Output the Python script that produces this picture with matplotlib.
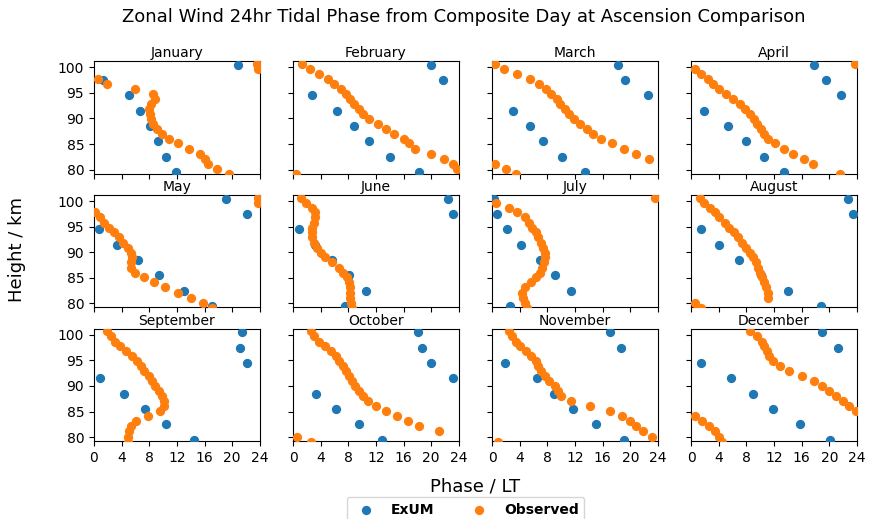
import matplotlib
matplotlib.use("Agg")
import matplotlib.pyplot as plt

months = ["January", "February", "March", "April", "May", "June", "July",
          "August", "September", "October", "November", "December"]
H_ex = [100.5, 97.5, 94.5, 91.5, 88.5, 85.5, 82.5, 79.5]
H_obs = [100.7, 99.7, 98.7, 97.8, 96.8, 95.8, 94.8, 93.9, 92.9, 91.9, 90.9, 89.9,
         89.0, 88.0, 87.0, 86.0, 85.1, 84.1, 83.1, 82.1, 81.1, 80.1, 79.1]
N = None
exum = {
    "January":   [20.8, 1.3, 5.0, 6.6, 8.1, 9.3, 10.4, 11.9],
    "February":  [19.9, 21.7, 2.7, 6.3, 8.8, 11.0, 14.0, 18.3],
    "March":     [18.2, 19.2, 22.6, 3.1, 5.5, 7.4, 10.1, 13.4],
    "April":     [17.8, 19.5, 21.7, 1.9, 5.3, 7.9, 10.6, 13.4],
    "May":       [19.1, 22.2, 0.7, 3.3, 6.3, 9.4, 13.0, 17.1],
    "June":      [22.4, 23.2, 0.8, 3.2, 5.7, 8.1, 10.6, 7.5],
    "July":      [0.3, 0.7, 2.2, 4.2, 6.9, 9.1, 11.4, 2.6],
    "August":    [22.7, 23.5, 1.4, 4.0, 7.0, 10.1, 14.0, 18.8],
    "September": [21.4, 21.2, 22.2, 0.9, 4.4, 7.4, 10.4, 14.5],
    "October":   [18.1, 18.6, 19.9, 23.2, 3.3, 6.2, 9.6, 12.9],
    "November":  [17.1, 18.7, 1.9, 6.5, 8.9, 11.7, 15.0, 19.1],
    "December":  [18.9, 21.2, 1.5, 5.8, 8.9, 11.8, 15.7, 20.1],
}
obs = {
    "January":   [23.6, 23.8, N, 0.6, 1.9, 6.0, 8.6, 8.8, 8.2, 7.9, 8.1, 8.3, 8.5, 9.1, 9.8,
                  10.8, 12.2, 13.8, 15.3, 16.1, 16.5, 17.8, 19.6],
    "February":  [1.3, 2.4, 3.7, 5.0, 6.0, 6.9, 7.6, 8.2, 8.8, 9.5, 10.1, 11.0, 12.3, 13.5,
                  14.6, 16.0, 16.8, 17.7, 19.9, 21.8, 23.1, 23.7, 0.4],
    "March":     [0.4, 1.8, 3.6, 5.5, 6.8, 7.8, 8.6, 9.4, 9.9, 10.6, 11.2, 11.9, 12.7, 13.7,
                  14.6, 15.8, 17.3, 19.1, 20.9, 22.7, 0.4, 2.0, 3.4],
    "April":     [23.7, 0.6, 1.5, 2.4, 3.2, 4.1, 5.0, 6.0, 7.1, 7.8, 8.5, 9.1, 9.6, 10.1,
                  10.6, 11.2, 12.2, 13.4, 14.8, 16.3, 17.7, N, 21.6],
    "May":       [23.8, 23.8, N, 0.1, 0.9, 1.5, 2.2, 2.9, 3.6, 4.2, 4.9, 5.3, 5.5, 5.3, 5.4,
                  5.9, 7.2, 8.7, 10.3, 12.1, 14.0, 15.8, 17.1],
    "June":      [1.1, 1.9, 2.7, 3.2, 3.2, 3.0, 2.7, 2.7, 2.7, 3.0, 3.5, 4.0, 4.7, 5.6, 6.6,
                  7.3, 7.8, 8.1, 8.2, 8.3, 8.3, 8.4, 8.5],
    "July":      [23.6, 0.6, 2.4, 3.6, 4.7, 5.3, 5.8, 6.3, 6.7, 7.1, 7.4, 7.6, 7.6, 7.5, 7.3,
                  6.9, 6.4, 5.7, 4.8, 4.4, 4.5, 4.7, 5.0],
    "August":    [1.3, 1.9, 2.7, 3.5, 4.1, 4.9, 5.5, 6.2, 6.8, 7.4, 8.0, 8.5, 8.9, 9.4, 9.7,
                  10.0, 10.2, 10.6, 10.9, 11.2, 11.2, 0.6, 1.4],
    "September": [1.9, 2.5, 3.0, 3.7, 4.6, 5.5, 6.2, 6.8, 7.3, 7.9, 8.4, 8.9, 9.4, 9.9, 10.1,
                  10.1, 9.5, 7.8, 6.1, 5.3, 5.0, 4.9, 4.9],
    "October":   [2.6, 3.1, 3.7, 4.6, 5.5, 6.2, 6.7, 7.3, 7.7, 8.1, 8.5, 9.0, 9.5, 10.1, 10.9,
                  12.0, 13.5, 15.1, 16.6, 18.2, 21.1, 0.6, 2.6],
    "November":  [2.4, 2.9, 3.5, 4.1, 4.9, 5.6, 6.3, 6.7, 7.1, 7.6, 8.3, 9.1, 9.6, 10.0, 11.4,
                  14.2, 17.1, 18.8, 20.0, 20.9, 21.9, 23.1, 0.9],
    "December":  [8.5, 9.6, 10.2, 10.6, 11.0, 11.3, 11.9, 12.8, 14.2, 16.1, 17.8, 19.0, 20.0,
                  21.0, 22.0, 22.9, 23.8, 0.6, 1.6, 2.6, 3.4, 4.0, 4.5],
}

fig, axes = plt.subplots(3, 4, figsize=(8.7, 5.19), dpi=100, sharex=True, sharey=True)
fig.subplots_adjust(left=0.108, right=0.985, top=0.882, bottom=0.150, wspace=0.2, hspace=0.19)
for ax, m in zip(axes.flat, months):
    ax.scatter(exum[m], H_ex, s=32, color="#1f77b4", label="ExUM", zorder=3)
    pts = [(x, h) for x, h in zip(obs[m], H_obs) if x is not None]
    ax.scatter([p[0] for p in pts], [p[1] for p in pts], s=32, color="#ff7f0e",
               label="Observed", zorder=3)
    ax.set_title(m, fontsize=10, pad=3)
    ax.set_xlim(0, 24)
    ax.set_ylim(79.2, 101.2)
    ax.set_xticks(range(0, 25, 4))
    ax.set_yticks(range(80, 101, 5))
    ax.tick_params(labelsize=10)
fig.suptitle("Zonal Wind 24hr Tidal Phase from Composite Day at Ascension Comparison",
             fontsize=13, x=0.533, y=0.985)
fig.text(0.02, 0.52, "Height / km", rotation=90, fontsize=13, va="center", ha="center")
fig.text(0.546, 0.062, "Phase / LT", fontsize=13, ha="center", va="center")
h, l = axes[0, 0].get_legend_handles_labels()
fig.legend(h, l, loc="lower center", bbox_to_anchor=(0.535, -0.02), ncol=2,
           prop={"weight": "bold", "size": 10}, columnspacing=2.2)
fig.savefig("out.png", dpi=100)
